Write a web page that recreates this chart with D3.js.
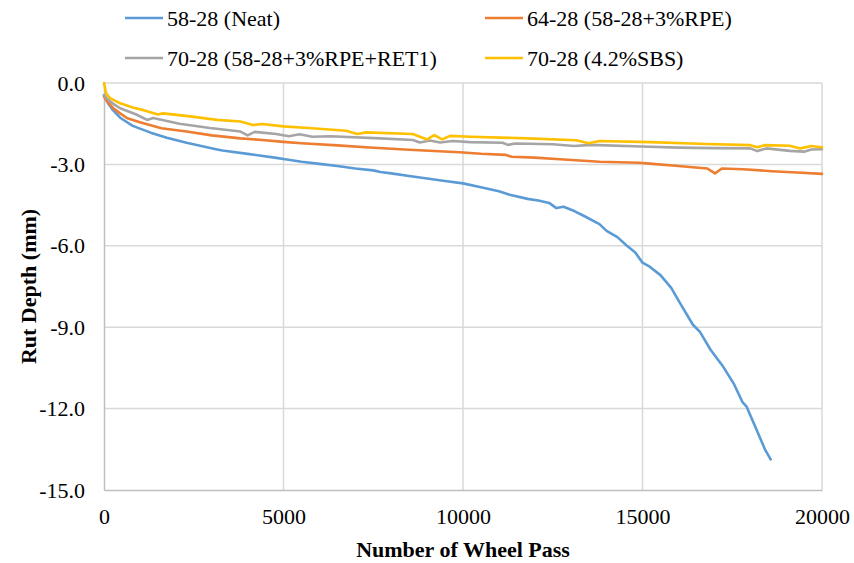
<!DOCTYPE html>
<html>
<head>
<meta charset="utf-8">
<script src="https://cdn.jsdelivr.net/npm/d3@7"></script>
<style>
  html, body { margin: 0; padding: 0; background: #fff; }
  svg { display: block; }
</style>
</head>
<body>
<svg id="chart" width="854" height="563"></svg>
<script>
// Rut depth (mm) against wheel passes, one [pass, depth] list per binder
const neat = [[0,-0.45],[100,-0.72],[250,-1.0],[450,-1.28],[800,-1.58],[1300,-1.83],[1750,-2.02],[2300,-2.2],[3150,-2.45],[3300,-2.49],[4050,-2.62],[4800,-2.76],[5000,-2.8],[5500,-2.9],[6000,-2.98],[6500,-3.06],[7000,-3.15],[7500,-3.22],[7700,-3.28],[8000,-3.33],[8500,-3.43],[9000,-3.52],[9500,-3.61],[10000,-3.70],[10500,-3.84],[11000,-3.99],[11300,-4.12],[11800,-4.27],[12100,-4.33],[12400,-4.42],[12600,-4.61],[12800,-4.56],[13100,-4.72],[13400,-4.92],[13800,-5.2],[14000,-5.45],[14300,-5.68],[14550,-5.98],[14800,-6.25],[15000,-6.62],[15200,-6.77],[15500,-7.08],[15800,-7.55],[16050,-8.12],[16400,-8.9],[16600,-9.17],[16900,-9.84],[17250,-10.46],[17550,-11.1],[17780,-11.75],[17900,-11.93],[18180,-12.79],[18410,-13.5],[18570,-13.87]];
const rpe = [[0,-0.5],[100,-0.7],[250,-0.92],[450,-1.12],[650,-1.3],[1000,-1.45],[1600,-1.67],[2300,-1.79],[3000,-1.93],[3800,-2.04],[4400,-2.1],[5000,-2.17],[5500,-2.22],[6500,-2.3],[7400,-2.38],[8500,-2.46],[9900,-2.55],[10500,-2.61],[11200,-2.65],[11350,-2.72],[12000,-2.75],[12700,-2.81],[13800,-2.9],[14900,-2.94],[15200,-2.97],[16000,-3.06],[16800,-3.15],[17020,-3.33],[17210,-3.15],[17800,-3.18],[18600,-3.25],[19300,-3.3],[20000,-3.35]];
const rpeRet = [[0,-0.45],[100,-0.6],[250,-0.76],[450,-0.93],[900,-1.16],[1200,-1.36],[1370,-1.29],[2100,-1.5],[2950,-1.66],[3800,-1.79],[4000,-1.93],[4200,-1.8],[4800,-1.88],[5150,-1.96],[5450,-1.89],[5800,-1.98],[6300,-1.96],[7700,-2.04],[8600,-2.1],[8800,-2.19],[9080,-2.12],[9360,-2.19],[9720,-2.14],[10200,-2.18],[11100,-2.2],[11250,-2.28],[11450,-2.23],[12500,-2.26],[13100,-2.32],[13550,-2.28],[15200,-2.35],[16000,-2.38],[17000,-2.4],[18000,-2.41],[18200,-2.51],[18450,-2.41],[19100,-2.5],[19500,-2.53],[19700,-2.45],[20000,-2.44]];
const sbs = [[0,0],[60,-0.38],[170,-0.56],[450,-0.75],[800,-0.9],[1100,-1.0],[1500,-1.16],[1650,-1.12],[2400,-1.23],[3150,-1.36],[3800,-1.42],[4150,-1.55],[4400,-1.51],[5000,-1.6],[5800,-1.67],[6750,-1.76],[7050,-1.88],[7300,-1.82],[8600,-1.88],[9000,-2.08],[9200,-1.92],[9420,-2.08],[9640,-1.95],[10200,-1.98],[11800,-2.04],[13150,-2.11],[13500,-2.22],[13800,-2.14],[15200,-2.18],[16800,-2.25],[18000,-2.29],[18200,-2.37],[18400,-2.29],[19100,-2.31],[19400,-2.41],[19700,-2.32],[20000,-2.37]];

const seriesNames = ["58-28 (Neat)", "64-28 (58-28+3%RPE)", "70-28 (58-28+3%RPE+RET1)", "70-28 (4.2%SBS)"];
const seriesColors = ["#5B9BD5", "#ED7D31", "#A5A5A5", "#FFC000"];
const xTicks = [0, 5000, 10000, 15000, 20000];
const yTicks = [0, -3, -6, -9, -12, -15];

const series = [neat, rpe, rpeRet, sbs];

// pick the first installed Times-like face
function pickFont(candidates) {
  const ctx = document.createElement("canvas").getContext("2d");
  const probe = "mmmmmmmmmmlli1WQ@#";
  for (const base of ["monospace", "sans-serif"]) {
    ctx.font = `40px ${base}`;
    const w0 = ctx.measureText(probe).width;
    for (const c of candidates) {
      ctx.font = `40px "${c}", ${base}`;
      if (Math.abs(ctx.measureText(probe).width - w0) > 0.5) return `"${c}", serif`;
    }
  }
  return "serif";
}
const serif = pickFont(["Liberation Serif", "Tinos", "Times New Roman", "Times", "Nimbus Roman", "Nimbus Roman No9 L", "TeX Gyre Termes", "FreeSerif", "Noto Serif", "DejaVu Serif", "Georgia"]);

const svg = d3.select("#chart").style("font-family", serif);
const plotL = 104, plotR = 822, plotT = 83, plotB = 490;

const x = d3.scaleLinear().domain([0, 20000]).range([plotL, plotR]);
const y = d3.scaleLinear().domain([0, -15]).range([plotT, plotB]);

// gridlines
const grid = svg.append("g");
grid.selectAll("line.h").data(yTicks.filter(d => d !== -15)).join("line")
  .attr("x1", plotL).attr("x2", plotR)
  .attr("y1", d => y(d)).attr("y2", d => y(d))
  .attr("stroke", "#d9d9d9").attr("stroke-width", 1.5);
grid.selectAll("line.v").data(xTicks.filter(d => d !== 0)).join("line")
  .attr("x1", d => x(d)).attr("x2", d => x(d))
  .attr("y1", plotT).attr("y2", plotB)
  .attr("stroke", "#d9d9d9").attr("stroke-width", 1.5);

// axes (plain hyphen for negative labels)
const yFmt = d => d3.format(".1f")(d).replace("\u2212", "-");
const xAxis = svg.append("g").attr("transform", `translate(0,${plotB})`)
  .call(d3.axisBottom(x).tickValues(xTicks).tickSize(0).tickPadding(18).tickFormat(d3.format("d")));
const yAxis = svg.append("g").attr("transform", `translate(${plotL},0)`)
  .call(d3.axisLeft(y).tickValues(yTicks).tickSize(0).tickPadding(19).tickFormat(yFmt));
[xAxis, yAxis].forEach(a => {
  a.attr("font-family", serif).attr("font-size", 22);
  a.select(".domain").attr("stroke", "#bfbfbf").attr("stroke-width", 1.5);
  a.selectAll("text").attr("fill", "#000");
});
xAxis.selectAll("text").attr("dy", "0.71em");

// series lines
const line = d3.line().x(d => x(d[0])).y(d => y(d[1]));
svg.append("g").selectAll("path").data(series).join("path")
  .attr("d", line)
  .attr("fill", "none")
  .attr("stroke", (d, i) => seriesColors[i])
  .attr("stroke-width", 2.6)
  .attr("stroke-linejoin", "round")
  .attr("stroke-linecap", "round");

// axis titles
svg.append("text")
  .attr("x", (plotL + plotR) / 2).attr("y", 557)
  .attr("text-anchor", "middle")
  .attr("font-family", serif)
  .attr("font-size", 22).attr("font-weight", "bold")
  .text("Number of Wheel Pass");
svg.append("text")
  .attr("transform", `translate(36,${(plotT + plotB) / 2}) rotate(-90)`)
  .attr("text-anchor", "middle")
  .attr("font-family", serif)
  .attr("font-size", 22).attr("font-weight", "bold")
  .text("Rut Depth (mm)");

// legend, two columns
const legendPos = [[125, 18], [485, 18], [125, 58], [485, 58]];
const legend = svg.append("g").selectAll("g").data(seriesNames).join("g")
  .attr("transform", (d, i) => `translate(${legendPos[i][0]},${legendPos[i][1]})`);
legend.append("line")
  .attr("x1", 0).attr("x2", 38).attr("y1", 0).attr("y2", 0)
  .attr("stroke", (d, i) => seriesColors[i]).attr("stroke-width", 2.6);
legend.append("text")
  .attr("x", 42).attr("y", 0).attr("dy", "0.35em")
  .attr("font-family", serif)
  .attr("font-size", 22)
  .text(d => d);
</script>
</body>
</html>
